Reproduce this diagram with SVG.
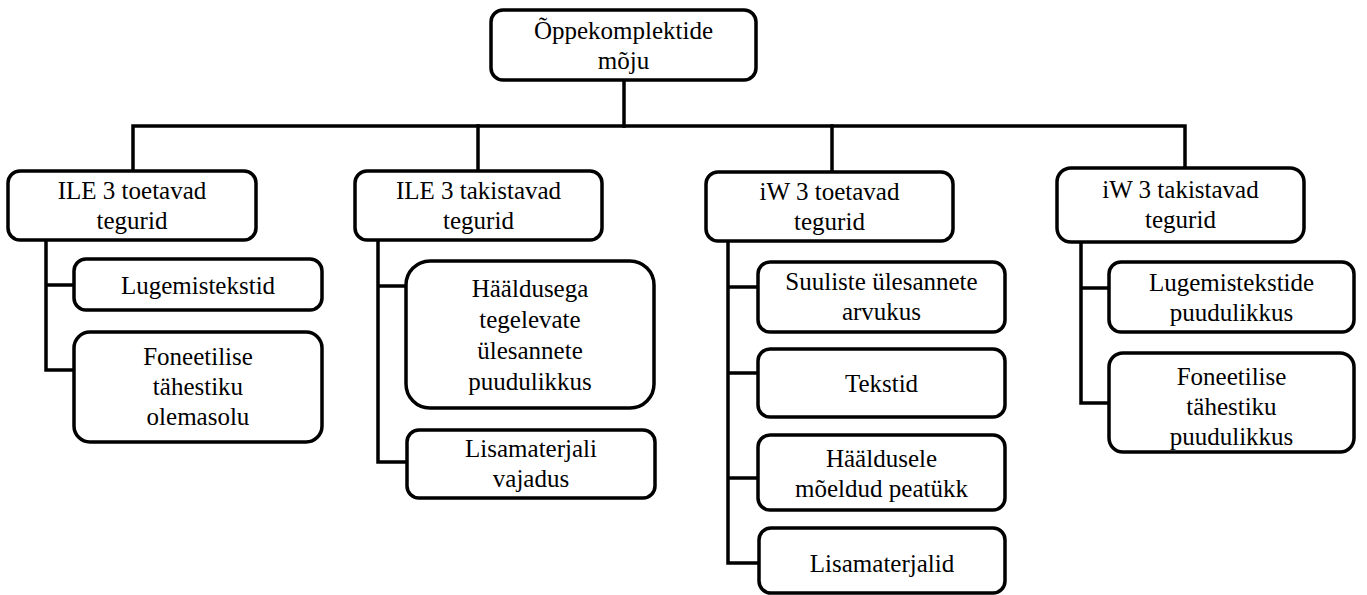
<svg xmlns="http://www.w3.org/2000/svg" width="1367" height="595" viewBox="0 0 1367 595">
<style>
.box{fill:#fff;stroke:#000;stroke-width:3.5}
.ln{fill:none;stroke:#000;stroke-width:3.5;stroke-linejoin:miter;stroke-linecap:square}
.t{font-family:'Liberation Serif','DejaVu Serif',serif;font-size:25px;fill:#000;text-anchor:middle}
</style>
<rect width="1367" height="595" fill="#fff"/>
<g id="connectors">
<path class="ln" d="M624,80 V126"/>
<path class="ln" d="M133,171 V126 H1185 V168"/>
<path class="ln" d="M478,126 V171"/>
<path class="ln" d="M832,126 V172"/>
<path class="ln" d="M46,240 V370 H74 M46,285 H74"/>
<path class="ln" d="M378,240 V462 H407 M378,286 H406"/>
<path class="ln" d="M728,241 V563 H759 M728,287 H758 M728,373 H758 M728,478 H758"/>
<path class="ln" d="M1081,242 V403 H1109 M1081,288 H1109"/>
</g>
<g class="t" font-family="Liberation Serif, DejaVu Serif, serif">
<g id="root">
<rect class="box" x="491" y="10" width="265" height="70" rx="12"/>
<text x="623.5" y="38.5">Õppekomplektide</text>
<text x="623.5" y="68.5">mõju</text>
</g>
<g id="ile-toetavad">
<rect class="box" x="8" y="171" width="248" height="69" rx="12"/>
<text x="132" y="199">ILE 3 toetavad</text>
<text x="132" y="229">tegurid</text>
</g>
<g id="ile-toetavad-1">
<rect class="box" x="74" y="259" width="248" height="51" rx="12"/>
<text x="198" y="293.5">Lugemistekstid</text>
</g>
<g id="ile-toetavad-2">
<rect class="box" x="74" y="332" width="248" height="110" rx="16"/>
<text x="198" y="365">Foneetilise</text>
<text x="198" y="395">tähestiku</text>
<text x="198" y="425">olemasolu</text>
</g>
<g id="ile-takistavad">
<rect class="box" x="355" y="171" width="247" height="69" rx="12"/>
<text x="478.5" y="199">ILE 3 takistavad</text>
<text x="478.5" y="229">tegurid</text>
</g>
<g id="ile-takistavad-1">
<rect class="box" x="406" y="261" width="248" height="147" rx="24"/>
<text x="530" y="297">Hääldusega</text>
<text x="530" y="328">tegelevate</text>
<text x="530" y="359">ülesannete</text>
<text x="530" y="390">puudulikkus</text>
</g>
<g id="ile-takistavad-2">
<rect class="box" x="407" y="430" width="248" height="68" rx="12"/>
<text x="531" y="457">Lisamaterjali</text>
<text x="531" y="487">vajadus</text>
</g>
<g id="iw-toetavad">
<rect class="box" x="706" y="172" width="247" height="69" rx="12"/>
<text x="829.5" y="200">iW 3 toetavad</text>
<text x="829.5" y="230">tegurid</text>
</g>
<g id="iw-toetavad-1">
<rect class="box" x="758" y="262" width="247" height="70" rx="12"/>
<text x="881.5" y="290">Suuliste ülesannete</text>
<text x="881.5" y="320">arvukus</text>
</g>
<g id="iw-toetavad-2">
<rect class="box" x="758" y="349" width="247" height="68" rx="12"/>
<text x="881.5" y="391.5">Tekstid</text>
</g>
<g id="iw-toetavad-3">
<rect class="box" x="758" y="435" width="247" height="75" rx="12"/>
<text x="881.5" y="467">Hääldusele</text>
<text x="881.5" y="497">mõeldud peatükk</text>
</g>
<g id="iw-toetavad-4">
<rect class="box" x="759" y="528" width="246" height="65" rx="12"/>
<text x="882" y="572">Lisamaterjalid</text>
</g>
<g id="iw-takistavad">
<rect class="box" x="1057" y="168" width="247" height="74" rx="14"/>
<text x="1180.5" y="198">iW 3 takistavad</text>
<text x="1180.5" y="228">tegurid</text>
</g>
<g id="iw-takistavad-1">
<rect class="box" x="1109" y="262" width="245" height="70" rx="12"/>
<text x="1231.5" y="291">Lugemistekstide</text>
<text x="1231.5" y="321">puudulikkus</text>
</g>
<g id="iw-takistavad-2">
<rect class="box" x="1109" y="353" width="245" height="99" rx="14"/>
<text x="1231.5" y="385">Foneetilise</text>
<text x="1231.5" y="415">tähestiku</text>
<text x="1231.5" y="445">puudulikkus</text>
</g>
</g>
</svg>
